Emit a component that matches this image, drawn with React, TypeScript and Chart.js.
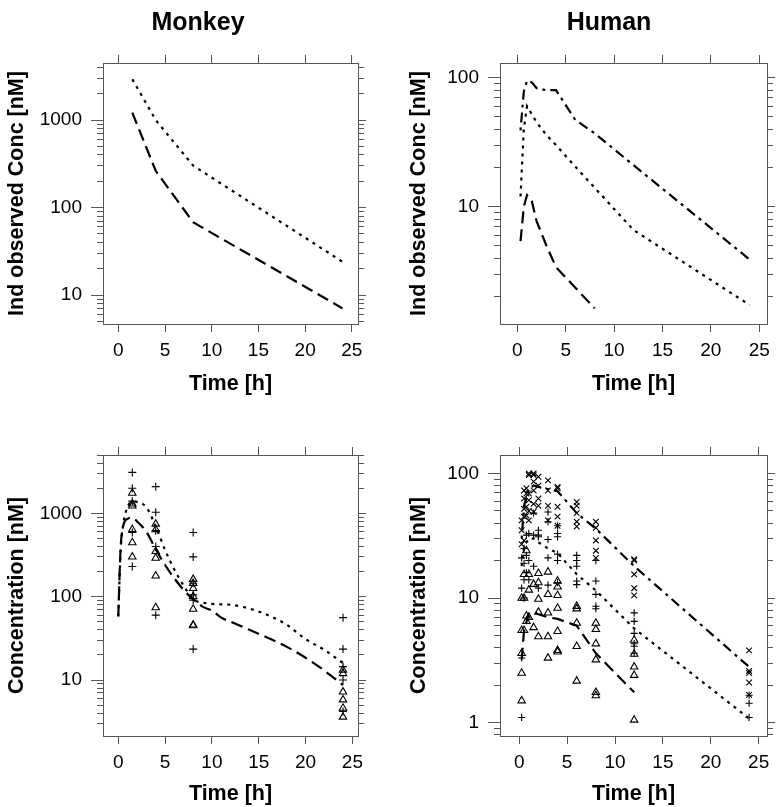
import React, { useEffect, useRef } from "react";
import { Chart, registerables } from "chart.js";

Chart.register(...registerables);

const FONT = "'Liberation Sans', Arial, Helvetica, sans-serif";
const INK = "#000000";
const FRAME = "#555555";

// ---------- tick labels ----------
const timeTicks = [0, 5, 10, 15, 20, 25];
const monkeyIndYLabels = [10, 100, 1000];
const humanIndYLabels = [10, 100];
const monkeyConcYLabels = [10, 100, 1000];
const humanConcYLabels = [1, 10, 100];

// ---------- Monkey: individual observed concentration ----------
const monkeyIndTime = [1.5, 4, 8, 24];
const monkeyIndHigh = [2920, 1000, 302, 24];
const monkeyIndLow = [1212, 263, 68, 7.05];

// ---------- Human: individual observed concentration ----------
const humanIndTime = [0.33, 0.67, 1, 1.5, 2, 3, 4, 6, 8, 12, 24];
const humanIndHigh = [39, 78, 95, 92, 83, 80, 80, 47, 37, 21, 3.9];
const humanIndMid = [12, 40, 60, 52, 45, 36, 30, 20.4, 14, 6.6, 1.73];
const humanIndLowTime = [0.33, 0.67, 1, 1.5, 2, 3, 4, 6, 8];
const humanIndLow = [5.4, 10, 12.3, 11, 7.7, 5.0, 3.4, 2.35, 1.63];

// ---------- Monkey: concentration (curves + observations) ----------
const monkeyPredTime = [0, 0.25, 0.5, 1, 1.5, 2, 3, 4, 5, 6, 7, 8, 9, 10, 11, 12, 14, 16, 18, 20, 22, 24];
const monkeyPredDotted = [58, 350, 700, 1200, 1380, 1370, 1180, 700, 363, 210, 135, 93, 85, 82, 81, 80, 72, 60, 46, 31, 23, 16];
const monkeyPredDashed = [58, 380, 680, 860, 890, 800, 600, 370, 240, 165, 120, 93, 76, 68, 56, 50, 40, 32, 25, 18.5, 13, 8.7];

const monkeyPlusPts: [number, number][] = [
  [1.5, 3100], [1.5, 2000], [1.5, 1400], [1.5, 590], [1.5, 230],
  [4, 2090], [4, 1030], [4, 620], [4, 400], [4, 60],
  [8, 590], [8, 300], [8, 145], [8, 105], [8, 91], [8, 23.5],
  [24, 56], [24, 23.5], [24, 14.5], [24, 10], [24, 4.2],
];
const monkeyTriPts: [number, number][] = [
  [1.5, 1750], [1.5, 1300], [1.5, 1230], [1.5, 640], [1.5, 445], [1.5, 300],
  [4, 745], [4, 640], [4, 350], [4, 290], [4, 178], [4, 74],
  [8, 162], [8, 145], [8, 126], [8, 101], [8, 71], [8, 46], [8, 45],
  [24, 13.2], [24, 12], [24, 7.2], [24, 5.8], [24, 4.6], [24, 3.6],
];

// ---------- Human: concentration (curves + observations) ----------
const humanPredTime = [0.25, 0.5, 1, 1.5, 2, 3, 4, 6, 8, 12, 24];
const humanPredHigh = [30, 55, 75, 80, 78, 75, 72, 48, 36, 18, 2.8];
const humanPredMid = [18, 26, 30, 30, 28, 25, 23, 15.5, 11.5, 5.7, 1.08];
const humanPredLowTime = [0.25, 0.5, 1, 1.5, 2, 3, 4, 6, 8, 12];
const humanPredLow = [3.2, 5.5, 7.5, 7.8, 7.4, 7.0, 6.8, 6.0, 3.6, 1.75];

const humanXPts: [number, number][] = [
  [0.25, 42], [0.25, 35], [0.25, 27],
  [0.5, 73], [0.5, 63], [0.5, 52], [0.5, 45], [0.5, 29],
  [0.75, 76], [0.75, 69], [0.75, 54], [0.75, 46],
  [1, 100], [1, 97], [1, 69], [1, 61], [1, 50], [1, 42],
  [1.5, 100], [1.5, 97], [1.5, 86], [1.5, 73], [1.5, 57], [1.5, 49],
  [2, 94], [2, 80], [2, 63], [2, 55],
  [3, 88], [3, 73], [3, 55], [3, 42],
  [4, 78], [4, 76], [4, 54], [4, 45], [4, 38],
  [6, 59], [6, 55], [6, 48], [6, 41], [6, 37.5],
  [8, 41], [8, 36.6], [8, 29], [8, 24], [8, 21],
  [12, 20.5], [12, 20], [12, 15.5], [12, 12], [12, 10.5],
  [24, 3.8], [24, 2.6], [24, 2.5], [24, 2.1], [24, 1.67],
];
const humanPlusPts: [number, number][] = [
  [0.25, 21], [0.25, 12], [0.25, 3.3], [0.25, 1.1],
  [0.5, 25], [0.5, 19], [0.5, 14], [0.5, 10],
  [0.75, 32], [0.75, 22], [0.75, 16],
  [1, 33], [1, 20], [1, 14],
  [1.5, 48], [1.5, 32], [1.5, 18],
  [2, 35], [2, 32], [2, 31], [2, 12],
  [3, 49], [3, 41], [3, 29.5], [3, 21], [3, 12.7],
  [4, 38], [4, 33], [4, 31], [4, 22.5], [4, 20], [4, 13.3],
  [6, 22], [6, 20], [6, 18], [6, 13.7], [6, 12.8],
  [8, 20], [8, 13.7], [8, 10.7], [8, 8.6], [8, 8.2],
  [12, 7.6], [12, 6.5], [12, 5.2], [12, 4.3], [12, 4.1], [12, 3.6],
  [24, 1.66], [24, 1.43], [24, 1.1],
];
const humanTriPts: [number, number][] = [
  [0.25, 10], [0.25, 5.5], [0.25, 3.6], [0.25, 2.5], [0.25, 1.5],
  [0.5, 15.5], [0.5, 10], [0.5, 5.5],
  [0.75, 24], [0.75, 7.2], [0.75, 6.5],
  [1, 15.5], [1, 11.6], [1, 7],
  [1.5, 12.9], [1.5, 5.8],
  [2, 15.8], [2, 13.3], [2, 9.8], [2, 7.7], [2, 4.9],
  [3, 16.2], [3, 10.7], [3, 7.6], [3, 4.9], [3, 3.3],
  [4, 13.7], [4, 12.3], [4, 10.5], [4, 8.3], [4, 5.4], [4, 3.8], [4, 3.7],
  [6, 8.6], [6, 8.2], [6, 6.3], [6, 4.1], [6, 2.16],
  [8, 6.3], [8, 5.6], [8, 4.3], [8, 3.2], [8, 1.75], [8, 1.65],
  [12, 4.6], [12, 3.55], [12, 2.8], [12, 2.4], [12, 1.05],
];

// ---------- line styles ----------
const DOTTED = [3, 5];
const LONGDASH = [12, 6];
const DOTDASH = [3, 5, 10, 5];

function lineDs(t: number[], v: number[], dash: number[], smooth = false) {
  return {
    data: t.map((x, i) => ({ x, y: v[i] })),
    showLine: true,
    borderColor: INK,
    backgroundColor: INK,
    borderWidth: 2.2,
    borderDash: dash,
    pointRadius: 0,
    fill: false,
    tension: 0,
    cubicInterpolationMode: smooth ? "monotone" : "default",
  };
}

function pointDs(pts: [number, number][], style: string, r: number) {
  return {
    data: pts.map(([x, y]) => ({ x, y })),
    showLine: false,
    pointStyle: style,
    pointRadius: r,
    borderColor: INK,
    backgroundColor: "rgba(0,0,0,0)",
    borderWidth: 1.1,
    pointBorderWidth: 1.1,
  };
}

const isDecade = (v: number) => Math.abs(Math.log10(v) - Math.round(Math.log10(v))) < 1e-6;

function logTickValues(min: number, max: number) {
  const out: number[] = [];
  for (let e = Math.floor(Math.log10(min)); e <= Math.ceil(Math.log10(max)); e++) {
    for (let k = 1; k <= 9; k++) {
      const v = parseFloat((k * Math.pow(10, e)).toPrecision(6));
      if (v >= min && v <= max) out.push(v);
    }
  }
  return out;
}

interface PanelSpec {
  left: number; top: number; width: number; height: number;
  yAxisWidth: number; rightWidth: number; topHeight: number; bottomHeight: number;
  xMin: number; xMax: number; yMin: number; yMax: number;
  yLabels: number[]; yTitle: string; yTitlePad: number; xTitlePad: number;
  datasets: any[];
}

function Panel({ spec }: { spec: PanelSpec }) {
  const ref = useRef<HTMLCanvasElement | null>(null);
  useEffect(() => {
    if (!ref.current) return;
    const yVals = logTickValues(spec.yMin, spec.yMax);
    const tickFont = { family: FONT, size: 19 };
    const titleFont = { family: FONT, size: 21.5, weight: "bold" as const };
    const setX = (s: any) => { s.ticks = timeTicks.map((v) => ({ value: v })); };
    const setY = (s: any) => { s.ticks = yVals.map((v) => ({ value: v })); };
    const minorOn = (ctx: any) => ctx.tick && !isDecade(ctx.tick.value);
    const chart = new Chart(ref.current, {
      type: "scatter",
      data: { datasets: spec.datasets },
      options: {
        animation: false,
        responsive: false,
        events: [],
        layout: { padding: 0 },
        plugins: { legend: { display: false }, tooltip: { enabled: false }, title: { display: false } },
        scales: {
          x: {
            type: "linear", position: "bottom", min: spec.xMin, max: spec.xMax,
            afterBuildTicks: setX,
            afterFit: (s: any) => { s.height = spec.bottomHeight; },
            ticks: { autoSkip: false, maxRotation: 0, padding: 7, color: INK, font: tickFont, callback: (v: any) => String(v) },
            grid: { display: true, drawOnChartArea: false, drawTicks: true, tickLength: 8, tickColor: FRAME, tickWidth: 1, lineWidth: 1 },
            border: { display: true, color: FRAME, width: 1 },
            title: { display: true, text: "Time [h]", color: INK, font: titleFont, padding: { top: 0, bottom: spec.xTitlePad } },
          },
          x2: {
            type: "linear", position: "top", min: spec.xMin, max: spec.xMax,
            afterBuildTicks: setX,
            afterFit: (s: any) => { s.height = spec.topHeight; },
            ticks: { display: false, autoSkip: false },
            grid: { display: true, drawOnChartArea: false, drawTicks: true, tickLength: 8, tickColor: FRAME, tickWidth: 1, lineWidth: 1 },
            border: { display: true, color: FRAME, width: 1 },
          },
          y: {
            type: "logarithmic", position: "left", min: spec.yMin, max: spec.yMax,
            afterBuildTicks: setY,
            afterFit: (s: any) => { s.width = spec.yAxisWidth; },
            ticks: {
              autoSkip: false, padding: 9, color: INK, font: tickFont,
              callback: (v: any) => (isDecade(v) && spec.yLabels.includes(Math.round(v * 1000) / 1000) ? String(v) : ""),
            },
            grid: {
              display: true, drawOnChartArea: false, drawTicks: true, tickLength: 12, tickColor: FRAME, tickWidth: 1, lineWidth: 1,
              tickBorderDash: (ctx: any) => (minorOn(ctx) ? [6, 6] : []),
              tickBorderDashOffset: (ctx: any) => (minorOn(ctx) ? 6 : 0),
            },
            border: { display: true, color: FRAME, width: 1 },
            title: { display: true, text: spec.yTitle, color: INK, font: titleFont, padding: { top: spec.yTitlePad, bottom: 0 } },
          },
          y2: {
            type: "logarithmic", position: "right", min: spec.yMin, max: spec.yMax,
            afterBuildTicks: setY,
            afterFit: (s: any) => { s.width = spec.rightWidth; },
            ticks: { display: false, autoSkip: false },
            grid: {
              display: true, drawOnChartArea: false, drawTicks: true, tickLength: 8, tickColor: FRAME, tickWidth: 1, lineWidth: 1,
              tickBorderDash: (ctx: any) => (minorOn(ctx) ? [5, 100] : []),
              tickBorderDashOffset: 0,
            },
            border: { display: true, color: FRAME, width: 1 },
          },
        },
      } as any,
    });
    return () => chart.destroy();
  }, [spec]);
  return (
    <canvas
      ref={ref}
      width={spec.width}
      height={spec.height}
      style={{ position: "absolute", left: spec.left, top: spec.top, width: spec.width, height: spec.height }}
    />
  );
}

const panels: PanelSpec[] = [
  {
    left: 0, top: 30, width: 391, height: 380,
    yAxisWidth: 103, rightWidth: 33, topHeight: 33, bottomHeight: 86,
    xMin: -1.64, xMax: 25.66, yMin: 4.67, yMax: 4480,
    yLabels: monkeyIndYLabels, yTitle: "Ind observed Conc [nM]", yTitlePad: 4, xTitlePad: 13,
    datasets: [
      lineDs(monkeyIndTime, monkeyIndHigh, DOTTED),
      lineDs(monkeyIndTime, monkeyIndLow, LONGDASH),
    ],
  },
  {
    left: 391, top: 30, width: 391, height: 380,
    yAxisWidth: 109, rightWidth: 15, topHeight: 33, bottomHeight: 86,
    xMin: -1.79, xMax: 25.8, yMin: 1.232, yMax: 130,
    yLabels: humanIndYLabels, yTitle: "Ind observed Conc [nM]", yTitlePad: 15, xTitlePad: 13,
    datasets: [
      lineDs(humanIndTime, humanIndHigh, DOTDASH),
      lineDs(humanIndTime, humanIndMid, DOTTED),
      lineDs(humanIndLowTime, humanIndLow, LONGDASH),
    ],
  },
  {
    left: 0, top: 420, width: 391, height: 387,
    yAxisWidth: 103, rightWidth: 33, topHeight: 35, bottomHeight: 71,
    xMin: -1.63, xMax: 25.6, yMin: 2.13, yMax: 5012,
    yLabels: monkeyConcYLabels, yTitle: "Concentration [nM]", yTitlePad: 4, xTitlePad: 0,
    datasets: [
      lineDs(monkeyPredTime, monkeyPredDotted, DOTTED, true),
      lineDs(monkeyPredTime, monkeyPredDashed, LONGDASH, true),
      pointDs(monkeyPlusPts, "cross", 4),
      pointDs(monkeyTriPts, "triangle", 4.3),
    ],
  },
  {
    left: 391, top: 420, width: 391, height: 387,
    yAxisWidth: 109, rightWidth: 15, topHeight: 35, bottomHeight: 71,
    xMin: -2.01, xMax: 25.87, yMin: 0.781, yMax: 140.6,
    yLabels: humanConcYLabels, yTitle: "Concentration [nM]", yTitlePad: 15, xTitlePad: 0,
    datasets: [
      lineDs(humanPredTime, humanPredHigh, DOTDASH),
      lineDs(humanPredTime, humanPredMid, DOTTED),
      lineDs(humanPredLowTime, humanPredLow, LONGDASH),
      pointDs(humanXPts, "crossRot", 4),
      pointDs(humanPlusPts, "cross", 3.6),
      pointDs(humanTriPts, "triangle", 4.3),
    ],
  },
];

const titleStyle: React.CSSProperties = {
  position: "absolute", top: 6, width: 200, textAlign: "center",
  fontFamily: FONT, fontWeight: "bold", fontSize: 25, lineHeight: "30px", color: INK,
};

export default function App() {
  return (
    <div style={{ position: "absolute", left: 0, top: 0, width: 782, height: 807, background: "#fff", overflow: "hidden" }}>
      {panels.map((p, i) => (
        <Panel key={i} spec={p} />
      ))}
      <div style={{ ...titleStyle, left: 198 - 100 }}>Monkey</div>
      <div style={{ ...titleStyle, left: 609 - 100 }}>Human</div>
    </div>
  );
}
